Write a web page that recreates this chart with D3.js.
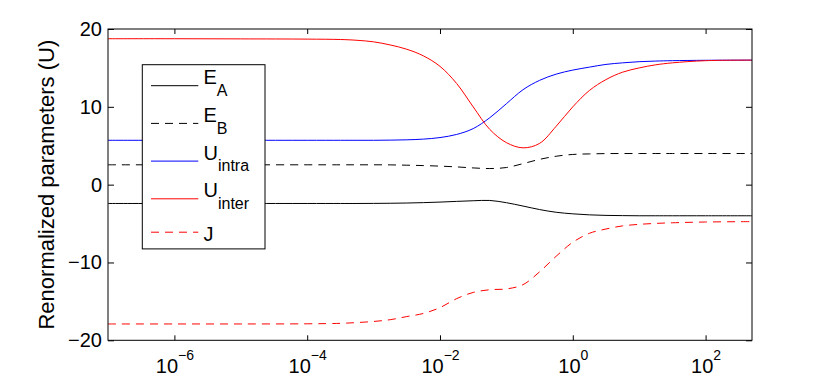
<!DOCTYPE html>
<html>
<head>
<meta charset="utf-8">
<script src="https://cdn.jsdelivr.net/npm/d3@7"></script>
<style>
  body { margin: 0; background: #fff; }
  svg { display: block; font-family: "Liberation Sans", Arial, sans-serif; }
</style>
</head>
<body>
<div id="chart"></div>
<script>
// x grid (shared by all series)
var xValues = [1e-7, 1e-6, 1e-5, 1e-4, 3.16e-4, 5.62e-4, 1e-3, 1.78e-3, 3.16e-3, 5.62e-3, 1e-2, 1.78e-2,
  3.16e-2, 5.62e-2, 0.1, 0.178, 0.316, 0.562, 1, 1.78, 3.16, 5.62, 10, 17.8, 31.6, 100, 500];

var eA     = [-2.42, -2.42, -2.42, -2.42, -2.42, -2.42, -2.41, -2.39, -2.36, -2.31, -2.24, -2.15,
  -2.07, -2.03, -2.32, -2.75, -3.2, -3.55, -3.75, -3.88, -3.95, -3.98, -4.0, -4.0, -4.0, -4.0, -4.0];
var eB     = [2.55, 2.55, 2.55, 2.55, 2.55, 2.55, 2.55, 2.54, 2.5, 2.45, 2.38, 2.28,
  2.15, 2.07, 2.2, 2.7, 3.25, 3.65, 3.88, 3.95, 3.99, 4.0, 4.0, 4.0, 4.0, 4.0, 4.0];
var uIntra = [5.7, 5.7, 5.7, 5.7, 5.7, 5.7, 5.7, 5.72, 5.76, 5.85, 6.05, 6.45,
  7.2, 8.6, 10.4, 12.2, 13.4, 14.2, 14.72, 15.1, 15.45, 15.65, 15.8, 15.88, 15.93, 15.98, 16.0];
var uInter = [18.75, 18.75, 18.73, 18.7, 18.65, 18.55, 18.35, 17.95, 17.4, 16.55, 15.2, 13.0,
  10.0, 7.1, 5.4, 4.73, 5.3, 7.5, 10.0, 12.1, 13.5, 14.45, 15.0, 15.4, 15.65, 15.93, 16.0];
var jVals  = [-17.9, -17.9, -17.9, -17.88, -17.82, -17.72, -17.58, -17.35, -16.95, -16.55, -15.8, -14.65,
  -13.85, -13.5, -13.4, -12.85, -11.2, -9.2, -7.4, -6.25, -5.7, -5.3, -5.1, -4.98, -4.9, -4.8, -4.75];

var xTicks = [1e-6, 1e-4, 1e-2, 1, 100];
var xTickExps = ["\u22126", "\u22124", "\u22122", "0", "2"];
var yTicks = [-20, -10, 0, 10, 20];

var seriesNames = ["E", "E", "U", "U", "J"];
var seriesSubs = ["A", "B", "intra", "inter", ""];

(function() {
  var margin = { top: 29, left: 108, right: 78, bottom: 42.7 },
    width = 830 - margin.left - margin.right,
    height = 383 - margin.top - margin.bottom;

  var svg = d3.select("#chart")
    .append("svg")
    .attr("width", 830)
    .attr("height", 383);

  var g = svg.append("g")
    .attr("transform", "translate(" + margin.left + "," + margin.top + ")");

  var x = d3.scaleLog().domain([1e-7, 500]).range([0, width]);
  var y = d3.scaleLinear().domain([-20, 20]).range([height, 0]);

  var series = [
    { values: eA, color: "#000", dash: null },
    { values: eB, color: "#000", dash: "8,6" },
    { values: uIntra, color: "#0000ff", dash: null },
    { values: uInter, color: "#ff0000", dash: null },
    { values: jVals, color: "#ff0000", dash: "8,6" }
  ];

  g.append("clipPath").attr("id", "clip")
    .append("rect").attr("width", width).attr("height", height);

  var line = d3.line()
    .x(function(d) { return x(d[0]); })
    .y(function(d) { return y(d[1]); })
    .curve(d3.curveCatmullRom.alpha(0.5));

  g.append("g").attr("clip-path", "url(#clip)")
    .selectAll("path")
    .data(series)
    .enter().append("path")
    .attr("d", function(s) {
      return line(xValues.map(function(xv, i) { return [xv, s.values[i]]; }));
    })
    .attr("fill", "none")
    .attr("stroke", function(s) { return s.color; })
    .attr("stroke-width", 1)
    .attr("stroke-dasharray", function(s) { return s.dash; });

  // axes, ticks pointing inward
  var bottom = g.append("g")
    .attr("transform", "translate(0," + height + ")")
    .call(d3.axisBottom(x).tickValues(xTicks).tickSizeInner(-5).tickSizeOuter(0));
  g.append("g")
    .call(d3.axisTop(x).tickValues(xTicks).tickSizeInner(-5).tickSizeOuter(0).tickFormat(""));
  var left = g.append("g")
    .call(d3.axisLeft(y).tickValues(yTicks).tickSizeInner(-6).tickSizeOuter(0).tickPadding(6));
  g.append("g")
    .attr("transform", "translate(" + width + ",0)")
    .call(d3.axisRight(y).tickValues(yTicks).tickSizeInner(-6).tickSizeOuter(0).tickFormat(""));

  g.selectAll(".domain").remove();
  g.selectAll(".tick line").attr("stroke", "#000");

  left.selectAll("text")
    .attr("font-size", 20)
    .attr("font-family", "Liberation Sans, Arial, sans-serif")
    .attr("fill", "#000");

  bottom.selectAll("text")
    .attr("font-size", 20)
    .attr("font-family", "Liberation Sans, Arial, sans-serif")
    .attr("fill", "#000")
    .attr("y", 33)
    .attr("dy", 0)
    .text(null)
    .each(function(d, i) {
      var t = d3.select(this);
      t.append("tspan").text("10");
      t.append("tspan").attr("font-size", 14).attr("dy", -13).text(xTickExps[i]);
    });

  g.append("rect")
    .attr("width", width)
    .attr("height", height)
    .attr("fill", "none")
    .attr("stroke", "#000")
    .attr("stroke-width", 1);

  svg.append("text")
    .attr("transform", "translate(53.5," + (margin.top + y(0)) + ") rotate(-90)")
    .attr("text-anchor", "middle")
    .attr("font-size", 22)
    .attr("fill", "#000")
    .text("Renormalized parameters (U)");

  // legend
  var legend = svg.append("g").attr("transform", "translate(142.3,64.7)");
  var rowH = seriesSubs.map(function(s) { return s ? 37.7 : 29.1; });
  var rowY = [];
  var acc = 2.15;
  rowH.forEach(function(h) { rowY.push(acc + h / 2); acc += h; });

  legend.append("rect")
    .attr("width", 122.7)
    .attr("height", acc + 2.15)
    .attr("fill", "#fff")
    .attr("stroke", "#000")
    .attr("stroke-width", 1);

  var items = legend.selectAll(".item")
    .data(series)
    .enter().append("g")
    .attr("class", "item")
    .attr("transform", function(d, i) { return "translate(0," + rowY[i] + ")"; });

  items.append("line")
    .attr("x1", 8.7)
    .attr("x2", 56)
    .attr("stroke", function(d) { return d.color; })
    .attr("stroke-width", 1)
    .attr("stroke-dasharray", function(d) { return d.dash; });

  var labels = items.append("text")
    .attr("x", 61.2)
    .attr("y", function(d, i) { return seriesSubs[i] ? -1.4 : 9; })
    .attr("font-size", 20)
    .attr("fill", "#000");
  labels.append("tspan").text(function(d, i) { return seriesNames[i]; });
  labels.append("tspan")
    .attr("font-size", 16)
    .attr("dy", 11.7)
    .text(function(d, i) { return seriesSubs[i]; });
})();
</script>
</body>
</html>
